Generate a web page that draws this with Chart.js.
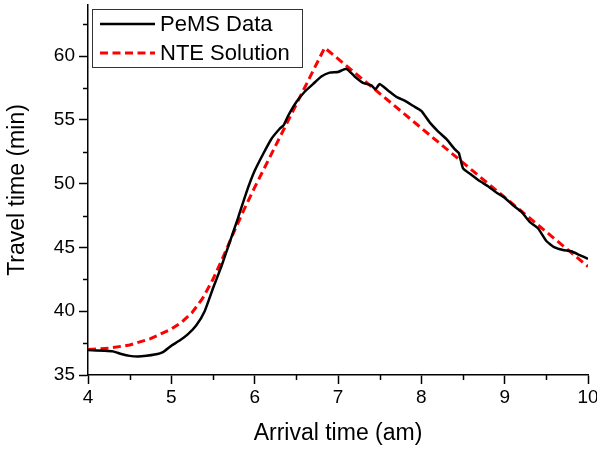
<!DOCTYPE html>
<html>
<head>
<meta charset="utf-8">
<script src="https://cdn.jsdelivr.net/npm/chart.js@4.4.1/dist/chart.umd.min.js"></script>
<style>
  html, body { margin: 0; padding: 0; background: #fff; }
  canvas { display: block; }
</style>
</head>
<body>
<canvas id="grafico" width="597" height="450"></canvas>
<script>
// Datos
var pemsHoras = [4.0, 4.2, 4.3, 4.4, 4.5, 4.6, 4.7, 4.8, 4.9, 5.0, 5.1, 5.2, 5.3, 5.4, 5.5, 5.6, 5.7, 5.8, 5.9, 6.0,
                 6.1, 6.2, 6.3, 6.35, 6.4, 6.5, 6.6, 6.7, 6.8, 6.9, 7.0, 7.1, 7.2, 7.3, 7.4, 7.45, 7.5, 7.6, 7.7, 7.8,
                 7.9, 8.0, 8.1, 8.2, 8.3, 8.4, 8.45, 8.5, 8.6, 8.7, 8.8, 8.9, 9.0, 9.1, 9.2, 9.3, 9.4, 9.5, 9.6, 9.7,
                 9.8, 9.9, 10.0];
var pemsMin = [36.95, 36.9, 36.85, 36.65, 36.5, 36.45, 36.5, 36.6, 36.8, 37.3, 37.7, 38.2, 38.9, 40.0, 41.8, 43.5, 45.4, 47.3, 49.3, 51.0,
               52.3, 53.5, 54.3, 54.6, 55.3, 56.4, 57.2, 57.8, 58.4, 58.7, 58.75, 59.0, 58.4, 57.9, 57.7, 57.4, 57.8, 57.3, 56.8, 56.5,
               56.1, 55.7, 54.8, 54.1, 53.5, 52.7, 52.4, 51.2, 50.7, 50.2, 49.8, 49.3, 48.9, 48.3, 47.8, 47.0, 46.5, 45.5, 45.0, 44.8,
               44.7, 44.4, 44.1];
var nteHoras = [4.0, 4.25, 4.5, 4.75, 5.0, 5.125, 5.25, 5.375, 5.5, 5.625, 5.75, 5.875, 6.0, 6.84, 10.0];
var nteMin = [37.0, 37.1, 37.35, 37.85, 38.6, 39.15, 39.9, 41.0, 42.5, 44.3, 46.2, 48.0, 49.7, 60.65, 43.5];

var ticksX = [4, 5, 6, 7, 8, 9, 10];
var ticksY = [35, 40, 45, 50, 55, 60];
var menoresX = [4.5, 5.5, 6.5, 7.5, 8.5, 9.5];
var menoresY = [37.5, 42.5, 47.5, 52.5, 57.5, 62.5];

function puntos(xs, ys) {
    return xs.map(function(x, i) { return { x: x, y: ys[i] }; });
}

var fuente = "'Liberation Sans', Arial, sans-serif";

// Marcas menores y leyenda dibujadas a mano
var pluginExtras = {
    id: 'extras',
    afterDraw: function(chart) {
        var ctx = chart.ctx;
        var sx = chart.scales.x, sy = chart.scales.y;
        var area = chart.chartArea;
        ctx.save();
        ctx.strokeStyle = '#000';
        ctx.lineWidth = 1.5;
        menoresX.forEach(function(v) {
            var px = Math.round(sx.getPixelForValue(v)) + 0.5;
            ctx.beginPath();
            ctx.moveTo(px, area.bottom);
            ctx.lineTo(px, area.bottom + 5);
            ctx.stroke();
        });
        menoresY.forEach(function(v) {
            var py = Math.round(sy.getPixelForValue(v)) + 0.5;
            ctx.beginPath();
            ctx.moveTo(area.left, py);
            ctx.lineTo(area.left - 5, py);
            ctx.stroke();
        });

        // Leyenda
        var bx = 92, by = 9, bw = 210, bh = 58;
        ctx.fillStyle = '#fff';
        ctx.fillRect(bx, by, bw, bh);
        ctx.strokeStyle = '#333';
        ctx.lineWidth = 1;
        ctx.strokeRect(bx + 0.5, by + 0.5, bw, bh);
        ctx.font = '22px ' + fuente;
        ctx.textBaseline = 'middle';
        chart.data.datasets.forEach(function(ds, i) {
            var y = by + 15 + i * 29;
            ctx.strokeStyle = ds.borderColor;
            ctx.lineWidth = ds.borderWidth;
            ctx.setLineDash(ds.borderDash || []);
            ctx.beginPath();
            ctx.moveTo(bx + 8, y);
            ctx.lineTo(bx + 63, y);
            ctx.stroke();
            ctx.setLineDash([]);
            ctx.fillStyle = '#000';
            ctx.fillText(ds.label, bx + 68, y + 1);
        });
        ctx.restore();
    }
};

new Chart(document.getElementById('grafico'), {
    type: 'line',
    data: {
        datasets: [{
            label: 'PeMS Data',
            data: puntos(pemsHoras, pemsMin),
            borderColor: '#000',
            borderWidth: 2.5,
            pointRadius: 0,
            tension: 0.15,
            fill: false
        }, {
            label: 'NTE Solution',
            data: puntos(nteHoras, nteMin),
            borderColor: '#ff0000',
            borderWidth: 3,
            borderDash: [8, 4.5],
            pointRadius: 0,
            tension: 0,
            fill: false
        }]
    },
    options: {
        responsive: false,
        animation: false,
        layout: { padding: { top: 5, right: 9, left: 0, bottom: 0 } },
        plugins: { legend: { display: false }, tooltip: { enabled: false } },
        scales: {
            x: {
                type: 'linear',
                min: 4,
                max: 10,
                afterBuildTicks: function(s) { s.ticks = ticksX.map(function(v) { return { value: v }; }); },
                afterFit: function(s) { s.height = 75; s.paddingLeft = 0; s.paddingRight = 0; },
                border: { display: true, color: '#000', width: 1.5 },
                grid: { drawOnChartArea: false, drawTicks: true, tickLength: 9, tickColor: '#000', tickWidth: 1.5 },
                ticks: { color: '#000', font: { family: fuente, size: 19 }, padding: 2, maxRotation: 0, autoSkip: false },
                title: { display: true, text: 'Arrival time (am)', color: '#000', font: { family: fuente, size: 23 }, padding: { top: 0, bottom: 3 } }
            },
            y: {
                type: 'linear',
                min: 35,
                max: 64,
                afterBuildTicks: function(s) { s.ticks = ticksY.map(function(v) { return { value: v }; }); },
                afterFit: function(s) { s.width = 88; s.paddingTop = 0; s.paddingBottom = 0; },
                border: { display: true, color: '#000', width: 1.5 },
                grid: { drawOnChartArea: false, drawTicks: true, tickLength: 9, tickColor: '#000', tickWidth: 1.5 },
                ticks: { color: '#000', font: { family: fuente, size: 19 }, padding: 4, autoSkip: false },
                title: { display: true, text: 'Travel time (min)', color: '#000', font: { family: fuente, size: 23 }, padding: { top: 4, bottom: 0 } }
            }
        }
    },
    plugins: [pluginExtras]
});
</script>
</body>
</html>
